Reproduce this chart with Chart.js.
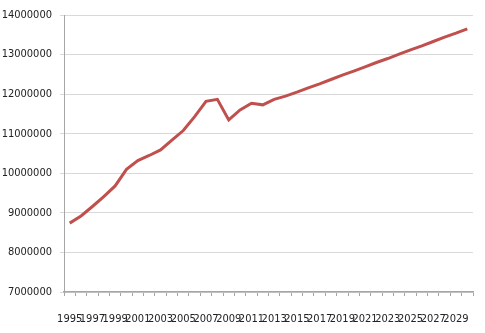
<!DOCTYPE html>
<html>
<head>
<meta charset="utf-8">
<script src="https://cdn.jsdelivr.net/npm/chart.js@4.4.0/dist/chart.umd.min.js"></script>
<style>
  html, body { margin: 0; padding: 0; background: #fff; }
  #wrap { width: 485px; height: 333px; }
</style>
</head>
<body>
<div id="wrap"><canvas id="chart" width="485" height="333"></canvas></div>
<script>
const years = [];
for (let y = 1995; y <= 2030; y++) years.push(String(y));

const values = [
  8740000, 8920000, 9160000, 9410000, 9680000, 10100000, 10320000, 10450000,
  10590000, 10840000, 11080000, 11430000, 11820000, 11870000, 11350000, 11600000,
  11770000, 11730000, 11870000, 11950000, 12050000, 12160000, 12260000, 12370000,
  12480000, 12580000, 12690000, 12800000, 12900000, 13010000, 13120000, 13220000,
  13330000, 13440000, 13540000, 13650000
];

const yMin = 7000000, yMax = 14000000, yStep = 1000000;

const font = { family: "'Liberation Sans Narrow', 'DejaVu Sans Condensed', sans-serif", size: 11 };

new Chart(document.getElementById("chart").getContext("2d"), {
  type: "line",
  data: {
    labels: years,
    datasets: [{
      data: values,
      borderColor: "#c0504d",
      borderWidth: 3,
      pointRadius: 0,
      tension: 0,
      fill: false
    }]
  },
  options: {
    responsive: false,
    animation: false,
    layout: { padding: { top: 15, right: 12, left: 0, bottom: 0 } },
    plugins: { legend: { display: false }, tooltip: { enabled: false } },
    scales: {
      x: {
        offset: true,
        grid: { offset: true, drawOnChartArea: false, drawTicks: true, tickLength: 4, color: "#a6a6a6" },
        border: { color: "#a6a6a6", width: 1.5 },
        ticks: {
          autoSkip: false, maxRotation: 0, minRotation: 0, padding: 17,
          color: "#222", font: font,
          callback: function (v, i) { return i % 2 === 0 ? this.getLabelForValue(v) : ""; }
        },
        afterFit: s => { s.height = 41; }
      },
      y: {
        min: yMin, max: yMax,
        grid: { color: "#d9d9d9", tickLength: 4 },
        border: { color: "#a6a6a6", width: 1 },
        ticks: { stepSize: yStep, padding: 8, color: "#222", font: font, callback: v => String(v) },
        afterFit: s => { s.width = 64; }
      }
    }
  }
});
</script>
</body>
</html>
